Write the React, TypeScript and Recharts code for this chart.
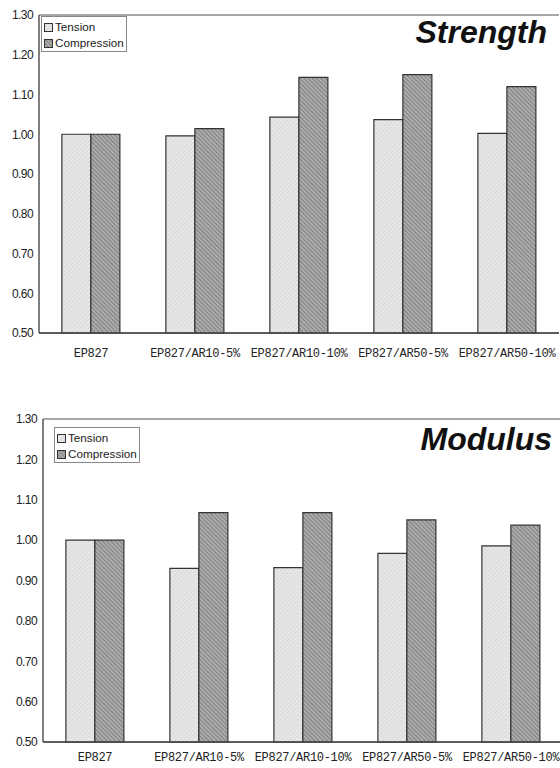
import React from 'react';
import { BarChart, Bar, XAxis, YAxis, CartesianGrid } from 'recharts';

const categories = ['EP827', 'EP827/AR10-5%', 'EP827/AR10-10%', 'EP827/AR50-5%', 'EP827/AR50-10%'];
const strengthTension = [1.0, 0.996, 1.043, 1.037, 1.002];
const strengthCompression = [1.0, 1.014, 1.143, 1.15, 1.12];
const modulusTension = [1.0, 0.93, 0.932, 0.967, 0.986];
const modulusCompression = [1.0, 1.068, 1.068, 1.05, 1.037];
const yTicks = [0.5, 0.6, 0.7, 0.8, 0.9, 1.0, 1.1, 1.2, 1.3];
const seriesNames = ['Tension', 'Compression'];

const sans = '"Liberation Sans", Arial, sans-serif';

function Patterns() {
  return (
    <svg width={0} height={0} style={{ position: 'absolute' }}>
      <defs>
        <pattern id="tensionFill" patternUnits="userSpaceOnUse" width={3} height={3} patternTransform="rotate(45)">
          <rect width={3} height={3} fill="#e8e8e8" />
          <line x1={0} y1={0} x2={0} y2={3} stroke="#c8c8c8" strokeWidth={1} />
        </pattern>
        <pattern id="compressionFill" patternUnits="userSpaceOnUse" width={3} height={3} patternTransform="rotate(-45)">
          <rect width={3} height={3} fill="#acacac" />
          <line x1={0} y1={0} x2={0} y2={3} stroke="#626262" strokeWidth={1.2} />
        </pattern>
      </defs>
    </svg>
  );
}

interface PanelProps {
  title: string;
  tension: number[];
  compression: number[];
  top: number;
  height: number;
  chartWidth: number;
  yAxisWidth: number;
  margin: { top: number; right: number; bottom: number; left: number };
  xAxisHeight: number;
  xTickMargin: number;
  titleRight: number;
  titleTop: number;
  legendLeft: number;
  legendTop: number;
}

function Panel(p: PanelProps) {
  const data = categories.map((name, i) => ({
    name,
    tension: p.tension[i],
    compression: p.compression[i],
  }));

  return (
    <div style={{ position: 'absolute', left: 0, top: p.top, width: 560, height: p.height, overflow: 'hidden' }}>
      <BarChart
        width={p.chartWidth}
        height={p.height}
        data={data}
        margin={p.margin}
        barCategoryGap="22%"
        barGap={0}
      >
        <CartesianGrid horizontal vertical={false} stroke="#8a8a8a" strokeWidth={1.5} />
        <XAxis
          dataKey="name"
          height={p.xAxisHeight}
          tickLine={false}
          tickSize={0}
          tickMargin={p.xTickMargin}
          axisLine={{ stroke: '#444', strokeWidth: 1.5 }}
          interval={0}
          tick={{ fill: '#222', fontSize: 12, letterSpacing: -0.3, fontFamily: '"Liberation Mono", monospace' }}
        />
        <YAxis
          yAxisId="left"
          domain={[0.5, 1.3]}
          ticks={yTicks}
          width={p.yAxisWidth}
          tickLine={false}
          tickSize={0}
          tickMargin={6}
          axisLine={{ stroke: '#555', strokeWidth: 1.5 }}
          tickFormatter={(v: number) => v.toFixed(2)}
          tick={{ fill: '#222', fontSize: 12, fontFamily: sans, letterSpacing: -0.6 }}
        />
        <YAxis
          yAxisId="right"
          orientation="right"
          domain={[0.5, 1.3]}
          width={0}
          tick={false}
          tickLine={false}
          axisLine={{ stroke: '#555', strokeWidth: 1.5 }}
        />
        <Bar
          yAxisId="left"
          dataKey="tension"
          name={seriesNames[0]}
          fill="url(#tensionFill)"
          stroke="#333"
          strokeWidth={1.2}
          isAnimationActive={false}
        />
        <Bar
          yAxisId="left"
          dataKey="compression"
          name={seriesNames[1]}
          fill="url(#compressionFill)"
          stroke="#333"
          strokeWidth={1.2}
          isAnimationActive={false}
        />
      </BarChart>

      <div
        style={{
          position: 'absolute',
          left: p.legendLeft,
          top: p.legendTop,
          width: 86,
          height: 36,
          boxSizing: 'border-box',
          border: '1px solid #888',
          background: '#fff',
          fontFamily: sans,
          fontSize: 11.7,
          color: '#222',
          paddingLeft: 2,
          paddingTop: 2,
        }}
      >
        {seriesNames.map((s, i) => (
          <div key={s} style={{ display: 'flex', alignItems: 'center', height: 16, lineHeight: '16px' }}>
            <svg width={9} height={9} style={{ marginRight: 2 }}>
              <rect
                x={0.5}
                y={0.5}
                width={8}
                height={8}
                fill={i === 0 ? 'url(#tensionFill)' : 'url(#compressionFill)'}
                stroke="#333"
                strokeWidth={1}
              />
            </svg>
            <span>{s}</span>
          </div>
        ))}
      </div>

      <div
        style={{
          position: 'absolute',
          right: p.titleRight,
          top: p.titleTop,
          fontFamily: sans,
          fontWeight: 'bold',
          fontStyle: 'italic',
          fontSize: 32,
          lineHeight: 1,
          color: '#111',
        }}
      >
        {p.title}
      </div>
    </div>
  );
}

export default function App() {
  return (
    <div style={{ position: 'absolute', left: 0, top: 0, width: 560, height: 768, background: '#fff', overflow: 'hidden' }}>
      <Patterns />
      <Panel
        title="Strength"
        tension={strengthTension}
        compression={strengthCompression}
        top={0}
        height={375}
        chartWidth={560}
        yAxisWidth={39}
        margin={{ top: 15, right: 1, bottom: 12, left: 0 }}
        xAxisHeight={30}
        xTickMargin={15}
        titleRight={13}
        titleTop={16}
        legendLeft={41}
        legendTop={16}
      />
      <Panel
        title="Modulus"
        tension={modulusTension}
        compression={modulusCompression}
        top={380}
        height={388}
        chartWidth={565}
        yAxisWidth={43}
        margin={{ top: 39, right: 2, bottom: 2, left: 0 }}
        xAxisHeight={24}
        xTickMargin={10}
        titleRight={8}
        titleTop={43}
        legendLeft={54}
        legendTop={47}
      />
    </div>
  );
}
